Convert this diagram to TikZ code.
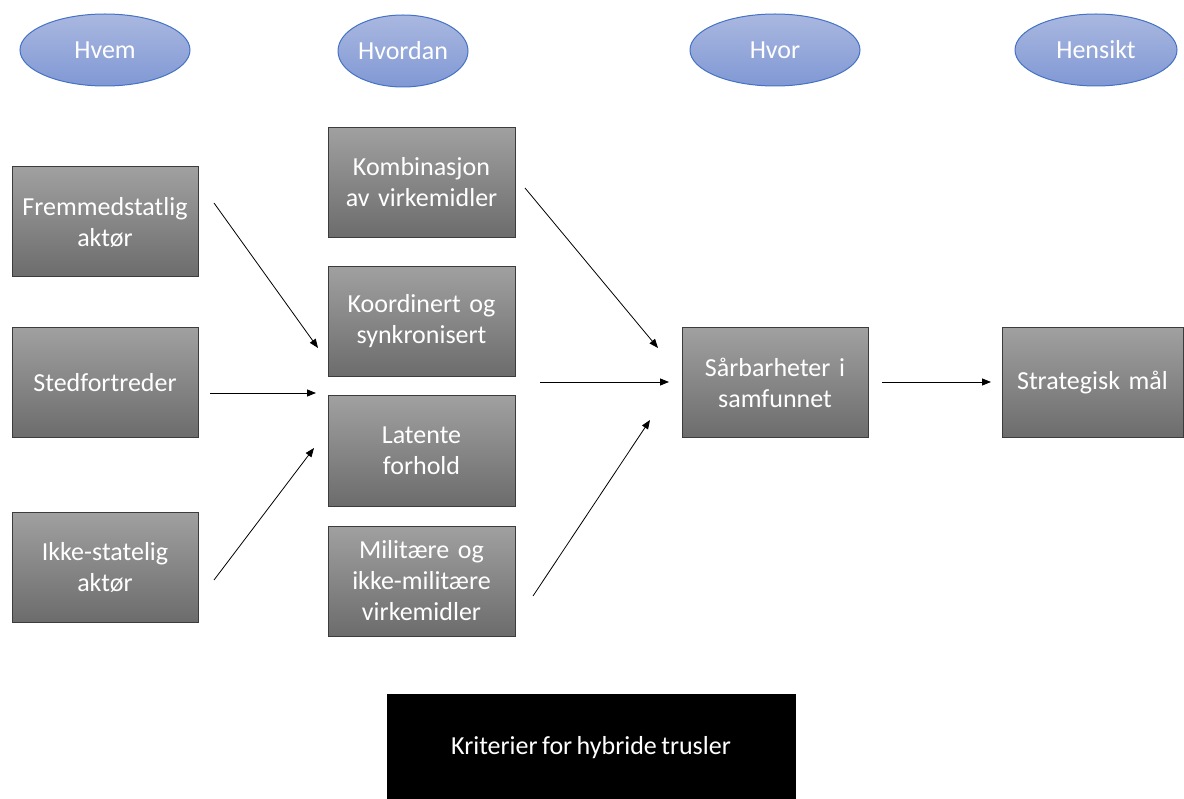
\documentclass[tikz,border=0pt]{standalone}
\usepackage{fontspec}
\setmainfont[WordSpace=0.75]{Carlito}
\usetikzlibrary{arrows.meta,shapes.geometric}
\definecolor{boxtop}{RGB}{160,160,160}
\definecolor{boxbot}{RGB}{108,108,108}
\definecolor{boxline}{RGB}{60,60,60}
\definecolor{elltop}{RGB}{170,184,224}
\definecolor{ellbot}{RGB}{128,152,212}
\definecolor{ellline}{RGB}{68,114,196}
\begin{document}
\begin{tikzpicture}[x=1pt,y=-1pt,
  lbl/.style={font=\fontsize{26}{31}\selectfont, text=white, align=center},
  graybox/.style={lbl, rectangle, draw=boxline, line width=1pt, top color=boxtop, bottom color=boxbot,
    minimum width=186pt, minimum height=110pt, text width=184pt, inner sep=0pt},
  head/.style={lbl, ellipse, draw=ellline, line width=1pt, top color=elltop, bottom color=ellbot,
    minimum width=170pt, minimum height=72pt, inner sep=0pt},
  conn/.style={-{Triangle[length=9pt,width=7pt]}, line width=0.8pt, black}
]
\useasboundingbox (0,0) rectangle (1184,799);

% headers
\node[head] (hvem) at (105,50) {Hvem};
\node[head, minimum width=130pt] (hvordan) at (403,51) {Hvordan};
\node[head] (hvor) at (775,50) {Hvor};
\node[head, minimum width=162pt] (hensikt) at (1096,50) {Hensikt};

% who
\node[graybox] (fremmed) at (105,222) {Fremmedstatlig\\aktør};
\node[graybox] (sted) at (105,382.5) {Stedfortreder};
\node[graybox] (ikke) at (105,567) {Ikke-statelig\\aktør};

% how
\node[graybox, minimum width=187pt] (komb) at (421.5,182.5) {Kombinasjon\\av virkemidler};
\node[graybox, minimum width=187pt] (koord) at (421.5,321.5) {Koordinert og\\synkronisert};
\node[graybox, minimum width=187pt] (latente) at (421.5,451) {Latente\\forhold};
\node[graybox, minimum width=187pt] (milit) at (421.5,581) {Militære og\\ikke-militære\\virkemidler};

% where / intent
\node[graybox] (saar) at (775,383) {Sårbarheter i\\samfunnet};
\node[graybox, minimum width=181pt, text width=181pt] (strat) at (1092.5,383) {Strategisk mål};

% criteria
\node[lbl, rectangle, fill=black, draw=black, minimum width=408pt, minimum height=108pt, inner sep=0pt]
  (krit) at (591,748) {Kriterier for hybride trusler};

% connector end points
\coordinate (a1s) at (214,203);  \coordinate (a1e) at (318,348);
\coordinate (a2s) at (210,393);  \coordinate (a2e) at (316,393);
\coordinate (a3s) at (214,580);  \coordinate (a3e) at (314,448);
\coordinate (a4s) at (525,188);  \coordinate (a4e) at (658,348);
\coordinate (a5s) at (540,382);  \coordinate (a5e) at (669,382);
\coordinate (a6s) at (533,596);  \coordinate (a6e) at (650,420);
\coordinate (a7s) at (882,382);  \coordinate (a7e) at (991,382);

\draw[conn] (a1s) -- (a1e);
\draw[conn] (a2s) -- (a2e);
\draw[conn] (a3s) -- (a3e);
\draw[conn] (a4s) -- (a4e);
\draw[conn] (a5s) -- (a5e);
\draw[conn] (a6s) -- (a6e);
\draw[conn] (a7s) -- (a7e);
\end{tikzpicture}
\end{document}
